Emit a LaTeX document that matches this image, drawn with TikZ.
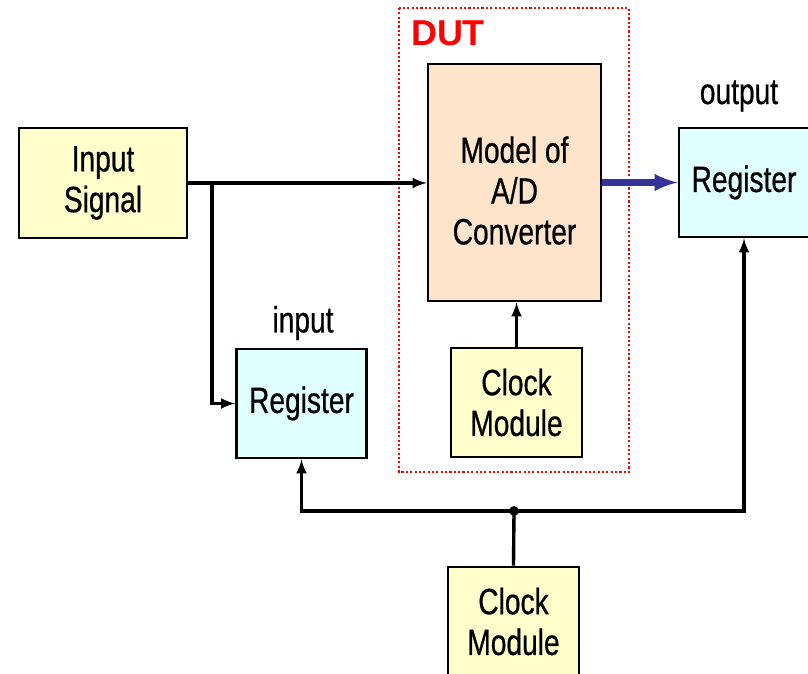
\documentclass[tikz,border=0pt]{standalone}
\usepackage{fontspec}
\setmainfont{Liberation Sans}[FakeStretch=0.77, FakeBold=0.6]
\newfontfamily\dutfont{Liberation Sans}
\definecolor{sigyellow}{HTML}{FFFFCC}
\definecolor{adcpeach}{HTML}{FDE4CA}
\definecolor{regcyan}{HTML}{E0FFFF}
\definecolor{busblue}{HTML}{333399}
\definecolor{dutred}{HTML}{FF0000}
\begin{document}
\begin{tikzpicture}[x=0.025cm, y=-0.025cm, >=latex,
          font=\fontsize{26}{29}\selectfont,
          box/.style={draw, line width=2pt, align=center, inner sep=0pt},
          sig/.style={box, fill=sigyellow},
          adcbox/.style={box, fill=adcpeach, minimum width=4.325cm, minimum height=5.925cm},
          reg/.style={box, fill=regcyan, minimum width=3.25cm, minimum height=2.725cm},
          clkbox/.style={sig, minimum width=3.275cm, minimum height=2.725cm},
          wire/.style={line width=2.4pt},
          dataout/.style={line width=4.5pt, busblue, ->}]
        \useasboundingbox (0,0) rectangle (808,674);
        \node[sig, minimum width=4.2cm, minimum height=2.75cm] (insig) at (103,183) {Input\\ Signal};
        \node[adcbox, text height=3.1cm] (adc) at (514.5,182.5) {Model of\\ A/D\\ Converter};
        \node[reg] (outreg) at (744,182.5) {Register};
        \node[reg] (inreg) at (301.5,403.5) {Register};
        \node[clkbox] (dutclk) at (516.5,402.5) {Clock\\ Module};
        \node[clkbox] (clk) at (513.5,621.5) {Clock\\ Module};
        \node (inlbl) at (303,323) {input};
        \node (outlbl) at (739,96) {output};
        \draw[dutred, line width=1.5pt, dash pattern=on 1.5pt off 1.6pt] (399,8) rectangle (629,472);
        \node[dutred, font=\dutfont\fontsize{25.6}{30}\selectfont\bfseries] (dut) at (448,33) {DUT};
        \coordinate (br) at (212,183);
        \coordinate (jn) at (514,511);
        \draw[wire, ->] (insig.east) -- (insig.east -| adc.west);
        \draw[wire, ->] (br) |- (inreg.west);
        \draw[dataout] (adc.east) -- (outreg.west);
        \draw[wire, ->] (dutclk.north) -- (dutclk.north |- adc.south);
        \draw[wire] (clk.north) -- (jn);
        \draw[wire, ->] (jn) -| (inreg.south);
        \draw[wire, ->] (jn) -| (outreg.south);
        \fill (jn) circle (3.5pt);
      \end{tikzpicture}
\end{document}
